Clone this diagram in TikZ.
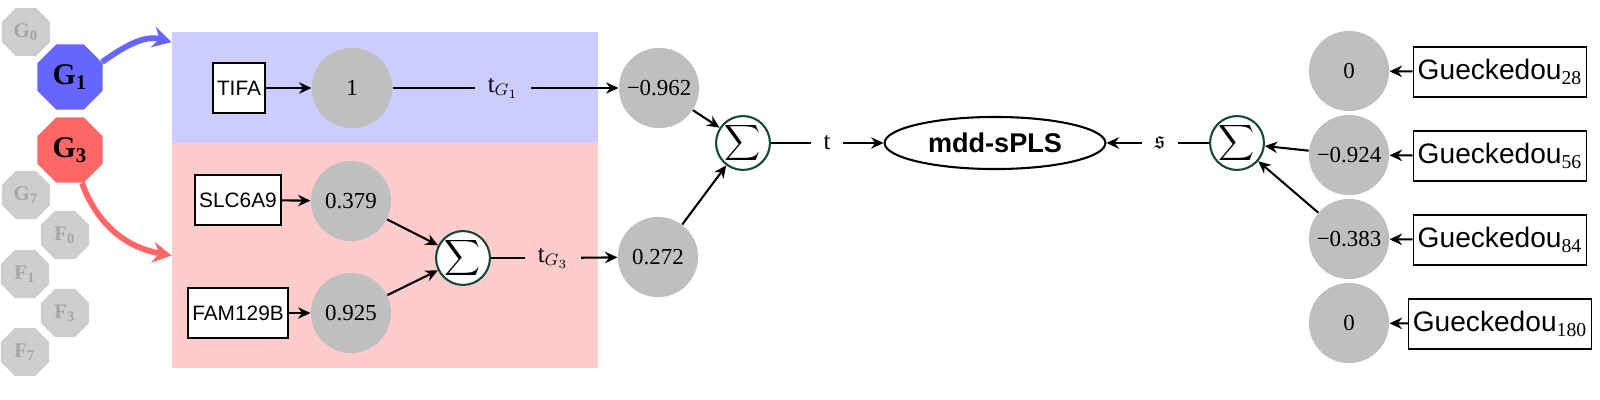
\documentclass[tikz,border=0pt]{standalone}
\usepackage{amssymb}
\usepackage{fontspec}
\setmainfont{Liberation Serif}
\setsansfont{Liberation Sans}
\usetikzlibrary{shapes.geometric,arrows.meta}

\definecolor{selblue}{RGB}{102,102,255}
\definecolor{selred}{RGB}{255,102,102}
\definecolor{backblue}{RGB}{204,204,255}
\definecolor{backred}{RGB}{255,204,204}
\definecolor{blockgray}{RGB}{206,206,206}
\definecolor{labelgray}{RGB}{165,165,165}
\definecolor{weightgray}{RGB}{191,191,191}
\definecolor{sumgreen}{RGB}{20,72,52}

\begin{document}
\begin{tikzpicture}[x=0.48pt,y=-0.48pt,>={Stealth[length=6pt,width=5.5pt,inset=2pt]}]

\useasboundingbox (0,0) rectangle (1600,400);

% size of circles and boxes
\def\cs{38.5pt}
\def\ss{24pt}
% node style definition
\tikzstyle{group} = [draw=none, rectangle, inner sep=0pt, minimum width=204.5pt];
\tikzstyle{blk} = [
	draw=none, fill=blockgray, regular polygon, regular polygon sides=8,
	minimum size=25pt, inner sep=0pt, text=labelgray, font=\normalsize\bfseries ];
\tikzstyle{sel} = [blk, minimum size=34pt, text=black, font=\Large\bfseries];
\tikzstyle{var} = [
	draw, line width=0.8pt, fill=white, rectangle,
	minimum height=\ss, inner sep=2pt, font=\sffamily ];
\tikzstyle{resp} = [var, font=\fontsize{13.5}{16}\selectfont\sffamily];
\tikzstyle{weight} = [
	circle, fill=weightgray, minimum size=\cs, inner sep=0pt,
	font=\fontsize{11}{13}\selectfont ];
\tikzstyle{sum} = [
	circle, draw=sumgreen, line width=1pt, fill=white,
	minimum size=\ss, inner sep=0pt, font=\fontsize{12}{14}\selectfont ];
\tikzstyle{plain} = [draw=none, fill=none, inner sep=6pt, font=\fontsize{12}{14}\selectfont];
\tikzstyle{link} = [line width=1pt];
\tikzstyle{pick} = [line width=2.8pt, -{Stealth[length=9pt,width=10pt]}];

\node[group, fill=backblue, minimum height=53.3pt] (blkG1) at (385,87.5) {};
\node[group, fill=backred, minimum height=108pt] (blkG3) at (385,255.5) {};

\node[blk] (g0) at (26,32) {G\textsubscript{0}};
\node[sel, fill=selblue] (g1) at (70,77) {G\textsubscript{1}};
\node[sel, fill=selred] (g3) at (70,150) {G\textsubscript{3}};
\node[blk] (g7) at (26,195) {G\textsubscript{7}};
\node[blk] (f0) at (65,235) {F\textsubscript{0}};
\node[blk] (f1) at (25,274) {F\textsubscript{1}};
\node[blk] (f3) at (65,313) {F\textsubscript{3}};
\node[blk] (f7) at (25,352) {F\textsubscript{7}};

\draw[pick, selblue] (g1.25) to[out=35,in=165] (blkG1.168);
\draw[pick, selred] (g3.-70) to[out=-70,in=170] (blkG3.west);

\node[var] (tifa) at (239,88) {TIFA};
\node[var] (slc) at (238,200) {SLC6A9};
\node[var] (fam) at (238,313) {FAM129B};

\node[weight] (w1) at (352,88) {1};
\node[weight] (w2) at (351,201) {0.379};
\node[weight] (w3) at (351,313) {0.925};

\node[sum] (sumG3) at (463,258) {$\displaystyle\sum$};

\node[plain] (tG1) at (503,88) {t$_{G_1}$};
\node[plain] (tG3) at (553,258) {t$_{G_3}$};

\node[weight] (c1) at (659,88) {−0.962};
\node[weight] (c3) at (658,257) {0.272};

\node[sum] (sumT) at (743,143) {$\displaystyle\sum$};
\node[plain] (tlab) at (827,143) {t};
\node[draw, ellipse, line width=1pt, minimum width=106pt, minimum height=25pt,
	font=\fontsize{13}{15}\selectfont\sffamily\bfseries] (mdd) at (995,143) {mdd-sPLS};
\node[plain] (slab) at (1160,143) {$\mathfrak{s}$};
\node[sum] (sumS) at (1237,143) {$\displaystyle\sum$};

\node[weight] (u28) at (1349,71) {0};
\node[weight] (u56) at (1349,155) {−0.924};
\node[weight] (u84) at (1349,239) {−0.383};
\node[weight] (u180) at (1349,323) {0};

\node[resp] (gk28) at (1500,72) {Gueckedou\textsubscript{\rmfamily 28}};
\node[resp] (gk56) at (1500,156) {Gueckedou\textsubscript{\rmfamily 56}};
\node[resp] (gk84) at (1500,240) {Gueckedou\textsubscript{\rmfamily 84}};
\node[resp] (gk180) at (1500,324) {Gueckedou\textsubscript{\rmfamily 180}};

\draw[->,link] (tifa) -- (w1);
\draw[link] (w1) -- (tG1);
\draw[->,link] (tG1) -- (c1);

\draw[->,link] (slc) -- (w2);
\draw[->,link] (fam) -- (w3);
\draw[->,link] (w2) -- (sumG3);
\draw[->,link] (w3) -- (sumG3);
\draw[link] (sumG3) -- (tG3);
\draw[->,link] (tG3) -- (c3);

\draw[->,link] (c1) -- (sumT);
\draw[->,link] (c3) -- (sumT);
\draw[link] (sumT) -- (tlab);
\draw[->,link] (tlab) -- (mdd);

\draw[link] (sumS) -- (slab);
\draw[->,link] (slab) -- (mdd);
\draw[->,link] (u56) -- (sumS);
\draw[->,link] (u84) -- (sumS);

\draw[->,link] (gk28) -- (u28);
\draw[->,link] (gk56) -- (u56);
\draw[->,link] (gk84) -- (u84);
\draw[->,link] (gk180) -- (u180);

\end{tikzpicture}
\end{document}
